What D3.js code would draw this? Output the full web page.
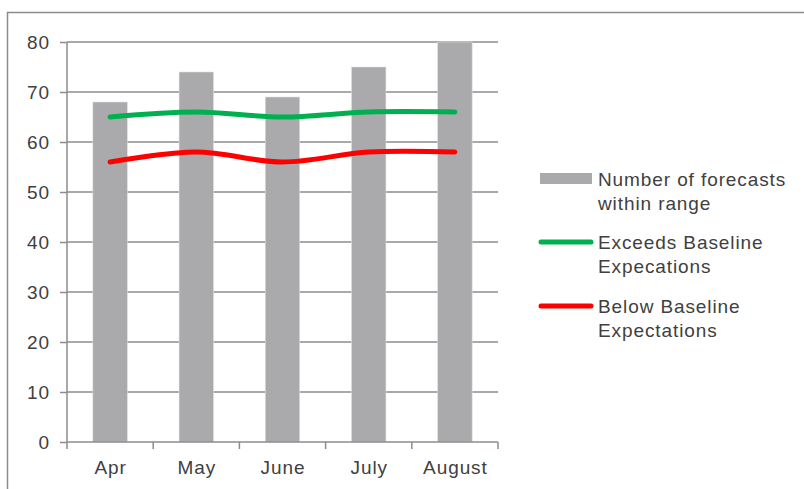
<!DOCTYPE html>
<html><head><meta charset="utf-8">
<script src="https://cdn.jsdelivr.net/npm/d3@7"></script>
<style>body{margin:0;background:#fff}svg{display:block}text{font-family:"Liberation Sans",Arial,sans-serif;fill:#404040}</style>
</head><body><svg id="c" width="804" height="489"></svg>
<script>
const categories = ["Apr","May","June","July","August"];
const forecasts = [68,74,69,75,80];
const exceeds = [65,66,65,66,66];
const below = [56,58,56,58,58];
const yTicks = [0,10,20,30,40,50,60,70,80];
const legendLabels = [["Number of forecasts","within range"],["Exceeds Baseline","Expecations"],["Below Baseline","Expectations"]];

const svg = d3.select("#c");
const grid = "#8c8c8c";
const FS = 19, LS = "0.9px";
svg.append("rect").attr("x",7.5).attr("y",12.5).attr("width",820).attr("height",500)
  .attr("fill","none").attr("stroke","#8c8c8c").attr("stroke-width",1.5);

const x0=67, x1=498, yTop=42, yBot=442;
const x = d3.scaleBand().domain(categories).range([x0,x1]).paddingInner(0.6).paddingOuter(0.3);
const y = d3.scaleLinear().domain([0,80]).range([yBot,yTop]);
const xc = d3.scalePoint().domain(categories).range([x0,x1]).padding(0.5);

// gridlines
svg.append("g").selectAll("line").data(yTicks.filter(d=>d>0)).join("line")
  .attr("x1",x0).attr("x2",x1).attr("y1",d=>y(d)).attr("y2",d=>y(d))
  .attr("stroke",grid).attr("stroke-width",1.5);

// bars
svg.append("g").selectAll("rect").data(forecasts).join("rect")
  .attr("x",(d,i)=>x(categories[i])).attr("width",x.bandwidth())
  .attr("y",d=>y(d)).attr("height",d=>yBot-y(d))
  .attr("fill","#aaaaac").attr("stroke","#e0e0e0").attr("stroke-width",0.6);

// axes
const ya = svg.append("g").attr("transform",`translate(${x0},0)`)
  .call(d3.axisLeft(y).tickValues(yTicks).tickSize(7).tickPadding(10));
ya.select(".domain").attr("stroke",grid).attr("stroke-width",1.5).attr("d",`M0,${yTop}V${yBot}`);
ya.selectAll(".tick line").attr("stroke",grid).attr("stroke-width",1.5);
ya.selectAll("text").attr("font-size",FS).attr("letter-spacing",LS).attr("fill","#404040").attr("font-family","Liberation Sans, Arial, sans-serif");

const xa = svg.append("g").attr("transform",`translate(0,${yBot})`)
  .call(d3.axisBottom(xc).tickSize(0).tickPadding(19));
xa.select(".domain").remove();
xa.selectAll("text").attr("font-size",FS).attr("letter-spacing",LS).attr("fill","#404040").attr("font-family","Liberation Sans, Arial, sans-serif");
const bx = d3.scaleLinear().domain([0,categories.length]).range([x0,x1]);
svg.append("line").attr("x1",x0).attr("x2",x1).attr("y1",yBot).attr("y2",yBot).attr("stroke",grid).attr("stroke-width",1.5);
svg.append("g").selectAll("line").data(d3.range(categories.length+1)).join("line")
  .attr("x1",d=>bx(d)).attr("x2",d=>bx(d)).attr("y1",yBot).attr("y2",yBot+7)
  .attr("stroke",grid).attr("stroke-width",1.5);

// lines
const line = d3.line().x((d,i)=>xc(categories[i])).y(d=>y(d)).curve(d3.curveCatmullRom.alpha(0.5));
[[exceeds,"#00b050"],[below,"#ff0000"]].forEach(([s,c])=>{
  svg.append("path").attr("d",line(s)).attr("fill","none").attr("stroke",c)
    .attr("stroke-width",5).attr("stroke-linecap","round");
});

// legend
const lg = svg.append("g");
const ly = [179,242,306];
lg.append("rect").attr("x",540).attr("y",173).attr("width",52).attr("height",11).attr("fill","#aaaaac");
lg.append("line").attr("x1",541).attr("x2",591).attr("y1",ly[1]).attr("y2",ly[1]).attr("stroke","#00b050").attr("stroke-width",5).attr("stroke-linecap","round");
lg.append("line").attr("x1",541).attr("x2",591).attr("y1",ly[2]).attr("y2",ly[2]).attr("stroke","#ff0000").attr("stroke-width",5).attr("stroke-linecap","round");
legendLabels.forEach((lab,i)=>{
  lab.forEach((t,j)=>{
    lg.append("text").attr("x",598).attr("y",ly[i]+j*24.5).attr("dy","0.35em")
      .attr("font-size",FS).attr("letter-spacing",LS).text(t);
  });
});
</script></body></html>
